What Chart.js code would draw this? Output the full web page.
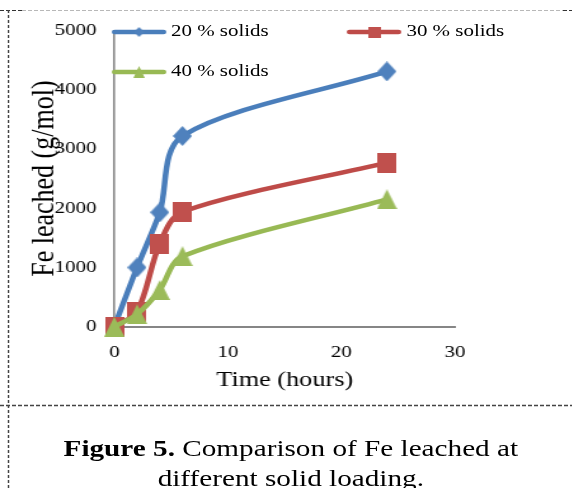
<!DOCTYPE html>
<html>
<head>
<meta charset="utf-8">
<script src="https://cdn.jsdelivr.net/npm/chart.js@4.4.1/dist/chart.umd.min.js"></script>
<style>
  html, body { margin: 0; padding: 0; background: #fff; width: 572px; height: 488px; overflow: hidden; }
  #stage {
    position: absolute; left: 0; top: 0; width: 451px; height: 488px;
    transform: scaleX(1.27); transform-origin: 0 0;
    font-family: "Liberation Serif", "Times New Roman", serif; color: #000;
  }
  #chart { position: absolute; left: 0; top: 0; }
  .key-glyph { position: absolute; }
  .key-text { position: absolute; font-size: 16.5px; line-height: 20px; white-space: nowrap; }
  #caption {
    position: absolute; left: 0; top: 434px; width: 458px;
    text-align: center; font-size: 23px; line-height: 30px;
  }
  #frame { position: absolute; left: 0; top: 0; }
</style>
</head>
<body>
<div id="stage">
  <canvas id="chart" width="451" height="400"></canvas>
  <div id="key"></div>
  <div id="caption"><b>Figure 5.</b> Comparison of Fe leached at<br>different solid loading.</div>
</div>
<svg id="frame" width="572" height="488">
  <line x1="0" y1="10.5" x2="22" y2="10.5" stroke="#333" stroke-width="1.2" stroke-dasharray="4 2"/>
  <line x1="22" y1="10.5" x2="563" y2="10.5" stroke="#b8b8b8" stroke-width="1" stroke-dasharray="4 2"/>
  <line x1="563" y1="10.5" x2="572" y2="10.5" stroke="#333" stroke-width="1.2" stroke-dasharray="4 2"/>
  <line x1="8.5" y1="10" x2="8.5" y2="488" stroke="#444" stroke-width="1.5" stroke-dasharray="3 2"/>
  <line x1="0" y1="405.5" x2="572" y2="405.5" stroke="#444" stroke-width="1.5" stroke-dasharray="4 2"/>
</svg>
<script>
// Leaching time (hours) and Fe leached (g/mol) for each solid loading
const timeHours = [0, 2, 4, 6, 24];
const solids20 = [0, 1000, 1930, 3220, 4310];
const solids30 = [0, 250, 1400, 1940, 2770];
const solids40 = [0, 210, 620, 1190, 2150];
const seriesNames = ['20 % solids', '30 % solids', '40 % solids'];
const xTicks = [0, 10, 20, 30];
const yTicks = [0, 1000, 2000, 3000, 4000, 5000];

const seriesValues = [solids20, solids30, solids40];
const lineColors = ['#4A7EBB', '#BE4B48', '#98B954'];
const markerColors = ['#4F81BD', '#C0504D', '#9BBB59'];
const markerShapes = ['diamond', 'square', 'triangle'];
const FONT = '"Liberation Serif", "Times New Roman", serif';

// Marker bitmaps (drawn narrower because the stage is stretched horizontally)
function markerCanvas(shape, w, h, color) {
  const c = document.createElement('canvas');
  c.width = w; c.height = h;
  const g = c.getContext('2d');
  g.fillStyle = color;
  g.beginPath();
  if (shape === 'diamond') {
    g.moveTo(w / 2, 0); g.lineTo(w, h / 2); g.lineTo(w / 2, h); g.lineTo(0, h / 2);
  } else if (shape === 'square') {
    g.rect(0, 0, w, h);
  } else {
    g.moveTo(w / 2, 0); g.lineTo(w, h); g.lineTo(0, h);
  }
  g.closePath();
  g.fill();
  return c;
}
const markerSize = { diamond: [15, 20], square: [15, 20], triangle: [16, 20] };
const keyMarkerSize = { diamond: [8, 10], square: [10, 11], triangle: [9, 12] };

const pointImages = markerShapes.map((s, i) =>
  markerCanvas(s, markerSize[s][0], markerSize[s][1], markerColors[i]));

// Legend: line sample with marker, then the series name
const keyPlaces = [[87.6, 31.7], [273, 31.7], [87.6, 71.7]];
const key = document.getElementById('key');
seriesNames.forEach((name, i) => {
  const glyph = document.createElement('canvas');
  glyph.width = 43; glyph.height = 24;
  glyph.className = 'key-glyph';
  const g = glyph.getContext('2d');
  g.strokeStyle = lineColors[i];
  g.lineWidth = 4.5;
  g.lineCap = 'round';
  g.beginPath(); g.moveTo(2.25, 12); g.lineTo(40.75, 12); g.stroke();
  const s = markerShapes[i];
  const m = markerCanvas(s, keyMarkerSize[s][0], keyMarkerSize[s][1], markerColors[i]);
  g.drawImage(m, 21.5 - m.width / 2, 12 - m.height / 2);
  glyph.style.left = keyPlaces[i][0] + 'px';
  glyph.style.top = (keyPlaces[i][1] - 12) + 'px';
  key.appendChild(glyph);

  const label = document.createElement('div');
  label.className = 'key-text';
  label.textContent = name;
  label.style.left = (keyPlaces[i][0] + 47) + 'px';
  label.style.top = (keyPlaces[i][1] + 5 - 15.57) + 'px';
  key.appendChild(label);
});

new Chart(document.getElementById('chart'), {
  type: 'line',
  data: {
    datasets: seriesNames.map((name, i) => ({
      label: name,
      data: timeHours.map((t, j) => ({ x: t, y: seriesValues[i][j] })),
      borderColor: lineColors[i],
      backgroundColor: markerColors[i],
      borderWidth: 4.5,
      borderCapStyle: 'round',
      borderJoinStyle: 'round',
      pointStyle: pointImages[i],
      pointRadius: 10,
      tension: 0.3,
      clip: false,
      order: 3 - i
    }))
  },
  options: {
    responsive: false,
    animation: false,
    devicePixelRatio: 1,
    events: [],
    layout: { padding: { left: 0, top: 30.5, right: 92.7, bottom: 6.6 } },
    plugins: { legend: { display: false }, tooltip: { enabled: false } },
    scales: {
      x: {
        type: 'linear', min: 0, max: 30,
        grid: { display: false, drawTicks: false },
        border: { display: true, color: '#868686', width: 2 },
        ticks: { font: { family: FONT, size: 16.5 }, color: '#000', padding: 16, callback: v => String(v) },
        afterBuildTicks: s => { s.ticks = xTicks.map(v => ({ value: v })); },
        afterFit: s => { s.height = 66.7; },
        title: { display: true, text: 'Time (hours)', color: '#000',
                 font: { family: FONT, size: 20.7 }, padding: { top: 0, bottom: 0 } }
      },
      y: {
        type: 'linear', min: 0, max: 5000,
        grid: { display: false, drawTicks: false },
        border: { display: true, color: '#868686', width: 1.6 },
        ticks: { font: { family: FONT, size: 16.5 }, color: '#000', padding: 14, callback: v => String(v) },
        afterBuildTicks: s => { s.ticks = yTicks.map(v => ({ value: v })); },
        afterFit: s => { s.width = 90; },
        title: { display: true, text: 'Fe leached (g/mol)', color: '#000',
                 font: { family: FONT, size: 26 }, padding: { top: 19.2, bottom: 0 } }
      }
    }
  }
});
</script>
</body>
</html>
